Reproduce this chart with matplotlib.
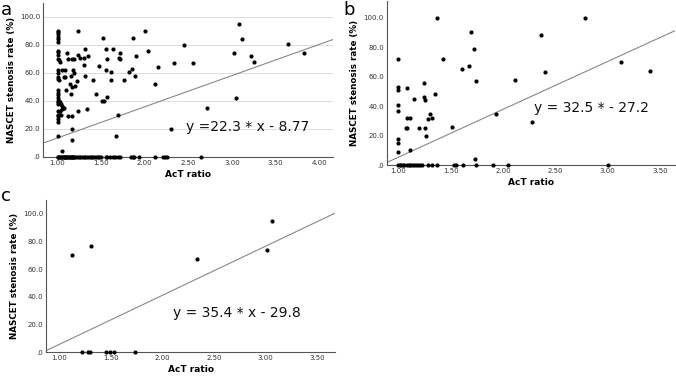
import numpy as np
import matplotlib
matplotlib.use('Agg')
import matplotlib.pyplot as plt

# panel a: all cases
act_a = [1.00, 1.00, 1.00, 1.00, 1.00, 1.00, 1.00, 1.00, 1.00, 1.00, 1.02, 1.03,
         1.00, 1.00, 1.00, 1.00, 1.02, 1.00, 1.00, 1.00, 1.00, 1.00, 1.00, 1.00,
         1.02, 1.03, 1.04, 1.05, 1.06, 1.07, 1.03, 1.05, 1.00, 1.00, 1.02, 1.04,
         1.00, 1.00, 1.00, 1.00, 1.05,
         1.05, 1.07, 1.09, 1.09, 1.11, 1.12, 1.10, 1.14, 1.15, 1.12, 1.16, 1.16,
         1.16, 1.15, 1.17, 1.19, 1.18, 1.19, 1.17, 1.20, 1.22, 1.23, 1.23, 1.23,
         1.26, 1.30, 1.30, 1.31, 1.31, 1.35, 1.34, 1.41, 1.44, 1.48, 1.51, 1.53,
         1.52, 1.56, 1.56, 1.57, 1.57, 1.61, 1.61, 1.63, 1.69, 1.67, 1.70, 1.71,
         1.71, 1.76, 1.82, 1.85, 1.86, 1.89, 1.90, 2.00, 2.04, 2.12, 2.15, 2.30,
         2.34, 2.45, 2.55, 2.71, 3.02, 3.05, 3.08, 3.11, 3.22, 3.25, 3.64, 3.83]
nascet_a = [90, 89, 88, 86, 84, 82, 76, 75, 73, 70, 69, 68,
            62, 60, 57, 56, 55, 48, 46, 44, 42, 40, 39, 38,
            40, 39, 38, 36, 35, 35, 33, 34, 33, 30, 30, 30,
            29, 27, 25, 15, 4,
            62, 57, 62, 57, 74, 70, 48, 52, 45, 29, 29, 20,
            12, 58, 70, 70, 62, 60, 50, 51, 54, 90, 73, 33,
            71, 66, 71, 77, 58, 72, 34, 55, 45, 65, 40, 40,
            85, 77, 62, 70, 43, 55, 61, 77, 30, 15, 71, 70,
            74, 55, 61, 63, 85, 58, 72, 90, 76, 52, 64, 20,
            67, 80, 67, 35, 74, 42, 95, 84, 72, 68, 81, 74]
act_a_zero = [1.00, 1.01, 1.02, 1.03, 1.04, 1.05, 1.06, 1.07, 1.08, 1.09, 1.10,
              1.11, 1.12, 1.13, 1.14, 1.15, 1.16, 1.17, 1.18, 1.19, 1.20, 1.22,
              1.24, 1.26, 1.28, 1.30, 1.32, 1.34, 1.36, 1.38, 1.40, 1.42, 1.44,
              1.46, 1.48, 1.50, 1.55, 1.57, 1.60, 1.63, 1.66, 1.69, 1.72, 1.84,
              1.86, 1.88, 1.93, 2.12, 2.21, 2.23, 2.25, 2.64]

# panel b
act_b = [1.00, 1.00, 1.00, 1.08, 1.00, 1.00, 1.00, 1.00, 1.00, 1.11, 1.08, 1.11,
         1.07, 1.08, 1.15, 1.20, 1.25, 1.25, 1.26, 1.26, 1.27, 1.28, 1.30, 1.32,
         1.35, 1.37, 1.43, 1.51, 1.61, 1.68, 1.70, 1.72, 1.74, 1.73, 1.93, 2.12,
         2.28, 2.36, 2.40, 2.78, 3.13, 3.40]
nascet_b = [72, 53, 51, 52, 41, 37, 18, 15, 9, 10, 32, 32,
            25, 25, 45, 25, 56, 46, 44, 25, 20, 31, 35, 32,
            48, 100, 72, 26, 65, 67, 90, 79, 57, 4, 35, 58,
            29, 88, 63, 100, 70, 64]
act_b_zero = [1.00, 1.02, 1.03, 1.05, 1.06, 1.08, 1.10, 1.11, 1.13, 1.15, 1.17,
              1.19, 1.21, 1.23, 1.28, 1.32, 1.37, 1.53, 1.55, 1.62, 1.74, 1.91,
              2.05, 3.00]

# panel c
act_c = [1.12, 1.31, 2.34, 3.02, 3.07]
nascet_c = [70, 77, 67, 74, 95]
act_c_zero = [1.22, 1.28, 1.30, 1.45, 1.49, 1.53, 1.73]

# fitted lines (slope, intercept) and labels
fits = {'a': (22.3, -8.77, 'y =22.3 * x - 8.77'),
        'b': (32.5, -27.2, 'y = 32.5 * - 27.2'),
        'c': (35.4, -29.8, 'y = 35.4 * x - 29.8')}


def style_axes(ax, xlim, ylim, xticks, grid=False):
    ax.set_xlim(*xlim)
    ax.set_ylim(*ylim)
    ax.set_xticks(xticks)
    ax.set_xticklabels(['{:.2f}'.format(t) for t in xticks])
    ax.set_yticks([0, 20, 40, 60, 80, 100])
    ax.set_yticklabels(['.0', '20.0', '40.0', '60.0', '80.0', '100.0'])
    ax.tick_params(length=0, pad=2, labelsize=5, colors='#333333')
    for s in ['top', 'right']:
        ax.spines[s].set_visible(False)
    for s in ['left', 'bottom']:
        ax.spines[s].set_color('#555555')
        ax.spines[s].set_linewidth(0.8)
    if grid:
        ax.yaxis.grid(True, color='#dddddd', linewidth=0.7)
        ax.set_axisbelow(True)
    ax.set_xlabel('AcT ratio', fontsize=6.5, fontweight='bold', labelpad=3)
    ax.set_ylabel('NASCET stenosis rate (%)', fontsize=6.3, fontweight='bold', labelpad=3)


def draw_panel(ax, act, nascet, act_zero, key, text_xy):
    slope, icpt, label = fits[key]
    x0, x1 = ax.get_xlim()
    xs = np.array([x0, x1])
    ax.plot(xs, slope * xs + icpt, color='#888888', linewidth=0.8, zorder=2)
    ax.scatter(act, nascet, s=9, color='black', zorder=3, linewidths=0)
    ax.scatter(act_zero, np.zeros(len(act_zero)), s=9, color='black', zorder=3,
               linewidths=0, clip_on=False)
    ax.text(text_xy[0], text_xy[1], label, fontsize=10, ha='center', va='center',
            color='#111111')


fig = plt.figure(figsize=(6.76, 3.77), dpi=100)

ax_a = fig.add_axes([0.064, 0.584, 0.429, 0.408])
style_axes(ax_a, (0.836, 4.16), (0, 110), [1.0, 1.5, 2.0, 2.5, 3.0, 3.5, 4.0], grid=True)
draw_panel(ax_a, act_a, nascet_a, act_a_zero, 'a', (3.18, 21))

ax_b = fig.add_axes([0.572, 0.562, 0.426, 0.436])
style_axes(ax_b, (0.89, 3.64), (0, 111.5), [1.0, 1.5, 2.0, 2.5, 3.0, 3.5])
draw_panel(ax_b, act_b, nascet_b, act_b_zero, 'b', (2.85, 39))

ax_c = fig.add_axes([0.068, 0.066, 0.428, 0.404])
style_axes(ax_c, (0.87, 3.68), (0, 110), [1.0, 1.5, 2.0, 2.5, 3.0, 3.5])
draw_panel(ax_c, act_c, nascet_c, act_c_zero, 'c', (2.72, 28))

fig.text(0.002, 0.998, 'a', fontsize=13, va='top', ha='left')
fig.text(0.508, 0.998, 'b', fontsize=13, va='top', ha='left')
fig.text(0.002, 0.505, 'c', fontsize=13, va='top', ha='left')

fig.savefig('out.png', dpi=100)
